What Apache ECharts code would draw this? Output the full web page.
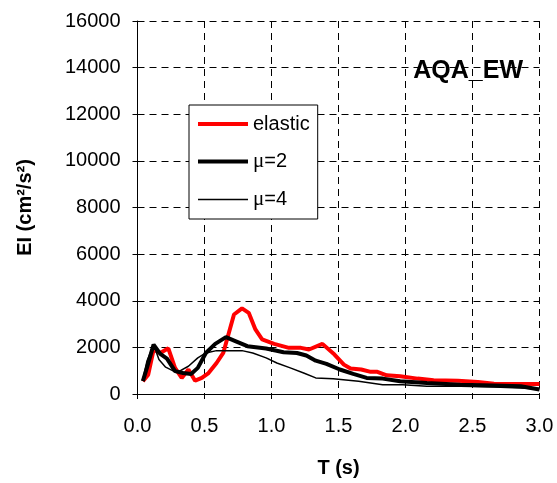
<!DOCTYPE html>
<html>
<head>
<meta charset="utf-8">
<script src="https://cdn.jsdelivr.net/npm/echarts@6/dist/echarts.min.js"></script>
<style>
html,body{margin:0;padding:0;background:#fff;}
#chart{width:557px;height:483px;}
</style>
</head>
<body>
<div id="chart"></div>
<script>
// Period T (s) and input energy EI (cm²/s²)
var elasticT  = [0.04, 0.08, 0.12, 0.17, 0.23, 0.28, 0.33, 0.38, 0.43, 0.48, 0.53, 0.59, 0.64, 0.72, 0.78, 0.83, 0.88, 0.93, 1.02, 1.13, 1.22, 1.28, 1.38, 1.47, 1.54, 1.59, 1.67, 1.74, 1.79, 1.86, 1.96, 2.09, 2.21, 2.39, 2.54, 2.66, 3.0];
var elasticEI = [550, 830, 1900, 1760, 1960, 1120, 690, 1050, 570, 690, 900, 1330, 1760, 3410, 3670, 3480, 2770, 2340, 2150, 1980, 1980, 1910, 2150, 1690, 1260, 1090, 1050, 950, 950, 800, 760, 660, 590, 570, 520, 440, 430];

var mu2T  = [0.04, 0.07, 0.12, 0.17, 0.22, 0.28, 0.34, 0.40, 0.45, 0.51, 0.58, 0.66, 0.73, 0.82, 0.96, 1.09, 1.19, 1.26, 1.33, 1.41, 1.51, 1.61, 1.71, 1.83, 1.96, 2.16, 2.41, 2.66, 2.86, 3.0];
var mu2EI = [550, 1120, 2120, 1720, 1520, 980, 900, 860, 1120, 1760, 2150, 2440, 2270, 2050, 1950, 1790, 1760, 1650, 1430, 1290, 1050, 860, 690, 660, 550, 470, 400, 360, 330, 190];

var mu4T  = [0.04, 0.07, 0.10, 0.12, 0.16, 0.21, 0.27, 0.32, 0.38, 0.45, 0.51, 0.59, 0.78, 0.86, 0.96, 1.04, 1.14, 1.24, 1.33, 1.46, 1.65, 1.83, 1.98, 2.16, 2.41, 2.66, 3.0];
var mu4EI = [620, 1400, 1830, 2120, 1480, 1150, 980, 1000, 1190, 1550, 1760, 1860, 1860, 1760, 1550, 1330, 1120, 900, 690, 650, 550, 400, 400, 330, 330, 300, 220];

var seriesNames = ['elastic', 'μ=2', 'μ=4'];
var seriesColors = ['#ff0000', '#000000', '#000000'];
var seriesWidths = [4, 4, 1.5];

function pairs(t, v) { return t.map(function (x, i) { return [x, v[i]]; }); }

var FONT = '"Liberation Sans", Arial, sans-serif';
var chart = echarts.init(document.getElementById('chart'), null, {renderer: 'canvas'});
chart.setOption({
  animation: false,
  backgroundColor: '#fff',
  textStyle: {fontFamily: FONT},
  grid: {left: 137.5, right: 17.5, top: 21, bottom: 87, containLabel: false},
  title: {
    text: 'AQA_EW', right: 29, top: 54,
    textStyle: {fontFamily: FONT, fontSize: 25, fontWeight: 'bold', color: '#000'}
  },
  legend: {
    orient: 'vertical', left: 189, top: 105,
    data: seriesNames.map(function (n, i) {
      return {name: n, lineStyle: {width: seriesWidths[i], color: seriesColors[i]}};
    }),
    itemWidth: 50, itemHeight: 14, itemGap: 17,
    padding: [9, 8, 9, 7],
    backgroundColor: '#fff', borderColor: '#000', borderWidth: 1, borderRadius: 0,
    itemStyle: {opacity: 0},
    formatter: function (n) { return n.charAt(0) === 'μ' ? '{g|μ}{r|' + n.slice(1) + '}' : '{r|' + n + '}'; },
    textStyle: {
      fontSize: 20, color: '#000', fontFamily: FONT,
      rich: {
        g: {fontFamily: '"Liberation Serif", "Times New Roman", serif', fontSize: 21, color: '#000'},
        r: {fontFamily: FONT, fontSize: 20, color: '#000'}
      }
    }
  },
  xAxis: {
    type: 'value', min: 0, max: 3, interval: 0.5,
    name: 'T (s)', nameLocation: 'middle', nameGap: 64,
    nameTextStyle: {fontFamily: FONT, fontSize: 20, fontWeight: 'bold', color: '#000'},
    axisLine: {onZero: false, lineStyle: {color: '#000', width: 1}},
    axisTick: {inside: false, length: 5, lineStyle: {color: '#000'}},
    axisLabel: {margin: 22, fontSize: 20, color: '#000', fontFamily: FONT,
      formatter: function (v) { return v.toFixed(1); }},
    splitLine: {show: true, lineStyle: {color: '#000', type: [7, 5], width: 1}}
  },
  yAxis: {
    type: 'value', min: 0, max: 16000, interval: 2000,
    name: 'EI (cm²/s²)', nameLocation: 'middle', nameGap: 102, nameRotate: 90,
    nameTextStyle: {fontFamily: FONT, fontSize: 20, fontWeight: 'bold', color: '#000'},
    axisLine: {show: true, lineStyle: {color: '#000', width: 1}},
    axisTick: {show: true, inside: false, length: 5, lineStyle: {color: '#000'}},
    axisLabel: {margin: 17, fontSize: 20, color: '#000', fontFamily: FONT,
      formatter: function (v) { return String(v); }},
    splitLine: {show: true, lineStyle: {color: '#000', type: [7, 5], width: 1}}
  },
  series: [
    {name: seriesNames[0], type: 'line', data: pairs(elasticT, elasticEI), symbol: 'none',
     lineStyle: {color: seriesColors[0], width: seriesWidths[0]}, itemStyle: {color: seriesColors[0]}},
    {name: seriesNames[1], type: 'line', data: pairs(mu2T, mu2EI), symbol: 'none',
     lineStyle: {color: seriesColors[1], width: seriesWidths[1]}, itemStyle: {color: seriesColors[1]}},
    {name: seriesNames[2], type: 'line', data: pairs(mu4T, mu4EI), symbol: 'none',
     lineStyle: {color: seriesColors[2], width: seriesWidths[2]}, itemStyle: {color: seriesColors[2]}}
  ]
});
</script>
</body>
</html>
